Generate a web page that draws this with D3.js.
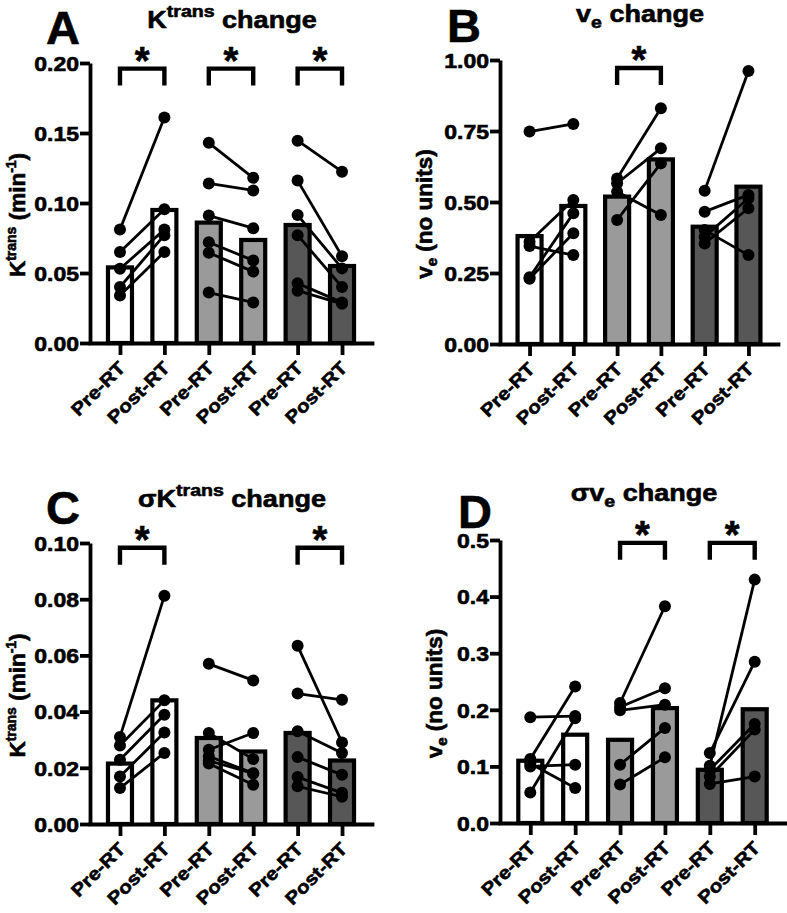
<!DOCTYPE html>
<html><head><meta charset="utf-8">
<script src="https://cdn.jsdelivr.net/npm/d3@7"></script>
<style>
body{margin:0;background:#fff}
text{font-family:"Liberation Sans",Arial,Helvetica,sans-serif;font-weight:bold;fill:#000;stroke:#000;stroke-width:0.6px;paint-order:stroke}
</style>
</head><body>
<svg id="c" width="787" height="913"></svg>
<script>
// ---------------- DATA ----------------
const categories = ["Pre-RT","Post-RT","Pre-RT","Post-RT","Pre-RT","Post-RT"];
const groupFills = ["#ffffff","#9a9a9a","#575757"];

// Panel A: Ktrans change
const aTicks = [0, 0.05, 0.10, 0.15, 0.20];
const aBars  = [0.054, 0.095, 0.086, 0.0736, 0.0843, 0.055];
const aPre   = [[0.081, 0.065, 0.053, 0.040, 0.034],
                [0.143, 0.114, 0.091, 0.072, 0.0645, 0.036],
                [0.1445, 0.116, 0.0914, 0.077, 0.0426, 0.0374]];
const aPost  = [[0.161, 0.0955, 0.081, 0.077, 0.065],
                [0.118, 0.109, 0.082, 0.059, 0.051, 0.029],
                [0.1224, 0.062, 0.0533, 0.040, 0.029, 0.028]];
const aSig   = [0, 1, 2];

// Panel B: ve change
const bTicks = [0, 0.25, 0.50, 0.75, 1.00];
const bBars  = [0.38, 0.486, 0.519, 0.65, 0.413, 0.554];
const bPre   = [[0.748, 0.36, 0.345, 0.235, 0.23],
                [0.583, 0.566, 0.536, 0.437],
                [0.54, 0.466, 0.401, 0.378, 0.354]];
const bPost  = [[0.775, 0.507, 0.313, 0.46, 0.39],
                [0.83, 0.689, 0.454, 0.636],
                [0.961, 0.525, 0.313, 0.513, 0.478]];
const bSig   = [1];

// Panel C: sigma Ktrans change
const cTicks = [0, 0.02, 0.04, 0.06, 0.08, 0.10];
const cBars  = [0.0215, 0.044, 0.0306, 0.0258, 0.0324, 0.0226];
const cPre   = [[0.031, 0.0279, 0.0229, 0.0169, 0.0128],
                [0.057, 0.0324, 0.0264, 0.0241, 0.0225, 0.0215],
                [0.0634, 0.0464, 0.033, 0.0238, 0.0167, 0.0134]];
const cPost  = [[0.0812, 0.044, 0.0389, 0.0326, 0.0253],
                [0.0511, 0.0231, 0.0324, 0.0181, 0.018, 0.014],
                [0.029, 0.0442, 0.0253, 0.0175, 0.0111, 0.0097]];
const cSig   = [0, 2];

// Panel D: sigma ve change
const dTicks = [0, 0.1, 0.2, 0.3, 0.4, 0.5];
const dBars  = [0.110, 0.156, 0.147, 0.203, 0.094, 0.201];
const dPre   = [[0.187, 0.113, 0.105, 0.100, 0.054],
                [0.212, 0.205, 0.199, 0.103, 0.068],
                [0.1235, 0.101, 0.094, 0.082, 0.069]];
const dPost  = [[0.189, 0.241, 0.062, 0.103, 0.185],
                [0.383, 0.238, 0.209, 0.168, 0.116],
                [0.285, 0.43, 0.175, 0.165, 0.082]];
const dSig   = [1, 2];

// ---------------- DRAW ----------------
const svg = d3.select("#c");
const SX = 1.15; // horizontal stretch of the reference's bold font

function drawPanel(p) {
  const g = svg.append("g");
  const y = d3.scaleLinear().domain([0, p.max]).range([p.y0, p.yTop]);
  const x = d3.scalePoint().domain(d3.range(categories.length)).range([p.x0, p.x1]).padding(0.675);

  // bars
  g.selectAll("rect.bar").data(p.bars).join("rect")
    .attr("x", (d, i) => x(i) - 12).attr("width", 24)
    .attr("y", d => y(d)).attr("height", d => p.y0 - y(d))
    .attr("fill", (d, i) => groupFills[Math.floor(i / 2)])
    .attr("stroke", "#000").attr("stroke-width", 4.2);

  // connecting lines and points
  p.pre.forEach((arr, gi) => {
    const xa = x(gi * 2), xb = x(gi * 2 + 1);
    arr.forEach((v, k) => {
      g.append("line").attr("x1", xa).attr("y1", y(v)).attr("x2", xb).attr("y2", y(p.post[gi][k]))
        .attr("stroke", "#000").attr("stroke-width", 2.8);
    });
  });
  p.pre.forEach((arr, gi) => {
    const xa = x(gi * 2), xb = x(gi * 2 + 1);
    arr.forEach(v => g.append("circle").attr("cx", xa).attr("cy", y(v)).attr("r", 6).attr("fill", "#000"));
    p.post[gi].forEach(v => g.append("circle").attr("cx", xb).attr("cy", y(v)).attr("r", 6).attr("fill", "#000"));
  });

  // y axis
  const ya = g.append("g").attr("transform", `translate(${p.x0},0)`)
    .call(d3.axisLeft(y).tickValues(p.ticks).tickSize(10).tickSizeOuter(0).tickFormat(""));
  ya.select(".domain").attr("stroke-width", 3.8);
  ya.selectAll(".tick line").attr("stroke-width", 3.8);
  ya.selectAll(".tick text").remove();
  ya.selectAll(".tick").append("text")
    .attr("transform", `translate(-11,0) scale(${SX},1)`)
    .attr("dy", "0.36em").attr("text-anchor", "end")
    .style("font-size", "20px").text(d => p.fmt(d));

  // x axis
  const xa = g.append("g").attr("transform", `translate(0,${p.y0})`)
    .call(d3.axisBottom(x).tickSize(12).tickSizeOuter(0).tickFormat(""));
  xa.select(".domain").attr("stroke-width", 3.8).attr("stroke-linecap", "square");
  xa.selectAll(".tick line").attr("stroke-width", 3.8);
  xa.selectAll(".tick text").remove();
  xa.selectAll(".tick").append("text")
    .attr("transform", `translate(6,26) rotate(-45) scale(${SX},1)`)
    .attr("text-anchor", "end")
    .style("font-size", "18px").text(d => categories[d]);

  // significance brackets
  p.sig.forEach(gi => {
    const xa1 = x(gi * 2), xb1 = x(gi * 2 + 1), yt = y(p.brk);
    g.append("path").attr("d", `M${xa1},${yt + 17}V${yt}H${xb1}V${yt + 17}`)
      .attr("fill", "none").attr("stroke", "#000").attr("stroke-width", 4.4);
    g.append("text").attr("x", (xa1 + xb1) / 2).attr("y", yt + 5).attr("text-anchor", "middle")
      .style("font-size", "38px").text("*");
  });

  // panel letter
  g.append("text").attr("x", p.letterX).attr("y", p.letterY).style("font-size", "47px").text(p.letter);

  // title
  const t = g.append("text").attr("text-anchor", "middle")
    .attr("transform", `translate(${p.titleX},${p.titleY}) scale(${SX},1)`)
    .style("font-size", "23.5px");
  p.title(t);

  // y title
  const yt = g.append("text").attr("text-anchor", "middle")
    .attr("transform", `translate(${p.ytX},${(p.y0 + p.yTop) / 2 + 12}) rotate(-90)`)
    .style("font-size", "22.5px");
  p.ytitle(yt);
}

function kTitle(t, prefix) {
  if (prefix) t.append("tspan").text(prefix);
  t.append("tspan").text("K");
  t.append("tspan").attr("dy", -11).style("font-size", "17px").text("trans");
  t.append("tspan").attr("dy", 11).text(" change");
}
function vTitle(t, prefix) {
  if (prefix) t.append("tspan").text(prefix);
  t.append("tspan").text("v");
  t.append("tspan").attr("dy", 6).style("font-size", "17px").text("e");
  t.append("tspan").attr("dy", -6).text(" change");
}
function kY(t) {
  t.append("tspan").text("K");
  t.append("tspan").attr("dy", -9).style("font-size", "14px").text("trans");
  t.append("tspan").attr("dy", 9).text(" (min");
  t.append("tspan").attr("dy", -9).style("font-size", "14px").text("-1");
  t.append("tspan").attr("dy", 9).text(")");
}
function vY(t) {
  t.append("tspan").text("v");
  t.append("tspan").attr("dy", 5).style("font-size", "15px").text("e");
  t.append("tspan").attr("dy", -5).text(" (no units)");
}

const f2 = d3.format(".2f"), f1 = d3.format(".1f");

drawPanel({ bars: aBars, pre: aPre, post: aPost, sig: aSig, ticks: aTicks, max: 0.20, fmt: f2, brk: 0.196,
  x0: 90, x1: 372, y0: 343, yTop: 63, letter: "A", letterX: 46, letterY: 44,
  titleX: 232, titleY: 28, title: t => kTitle(t), ytX: 25, ytitle: kY });

drawPanel({ bars: bBars, pre: bPre, post: bPost, sig: bSig, ticks: bTicks, max: 1.0, fmt: f2, brk: 0.972,
  x0: 500, x1: 778, y0: 344, yTop: 60, letter: "B", letterX: 447, letterY: 42,
  titleX: 640, titleY: 22, title: t => vTitle(t), ytX: 432, ytitle: vY });

drawPanel({ bars: cBars, pre: cPre, post: cPost, sig: cSig, ticks: cTicks, max: 0.10, fmt: f2, brk: 0.0983,
  x0: 90, x1: 372, y0: 824, yTop: 543, letter: "C", letterX: 46, letterY: 524,
  titleX: 232, titleY: 507, title: t => kTitle(t, "σ"), ytX: 25, ytitle: kY });

drawPanel({ bars: dBars, pre: dPre, post: dPost, sig: dSig, ticks: dTicks, max: 0.5, fmt: f1, brk: 0.495,
  x0: 500, x1: 785, y0: 823, yTop: 540, letter: "D", letterX: 458, letterY: 528,
  titleX: 644, titleY: 501, title: t => vTitle(t, "σ"), ytX: 442, ytitle: vY });
</script>
</body></html>
